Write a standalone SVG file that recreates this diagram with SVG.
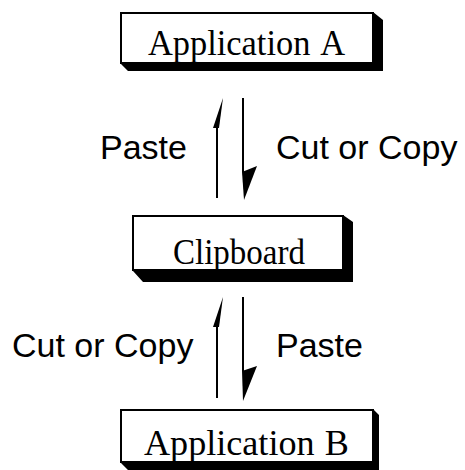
<svg xmlns="http://www.w3.org/2000/svg" width="465" height="470" viewBox="0 0 465 470">
  <style>
    .box { fill: #ffffff; stroke: #000000; stroke-width: 2; }
    .shadow { fill: #000000; stroke: none; }
    .title { font-family: "Liberation Serif", "Times New Roman", serif; font-size: 35px; fill: #000000; }
    .label { font-family: "Liberation Sans", Arial, sans-serif; font-size: 34px; fill: #000000; }
    .shaft { stroke: #000000; stroke-width: 2; fill: none; }
    .head { fill: #000000; stroke: none; }
  </style>
  <rect width="465" height="470" fill="#ffffff"/>

  <g id="application-a">
    <polygon class="shadow" points="373,12 383,20 383,71 128,71 121,64 373,64"/>
    <rect class="box" x="121" y="13" width="252" height="50"/>
    <text class="title" x="148" y="55" textLength="197" lengthAdjust="spacingAndGlyphs">Application<tspan dx="10">A</tspan></text>
  </g>

  <g id="clipboard">
    <polygon class="shadow" points="343,215 353,222 353,282 143,282 133,271 343,271"/>
    <rect class="box" x="133" y="216" width="210" height="54"/>
    <text class="title" x="173" y="264" textLength="132" lengthAdjust="spacingAndGlyphs">Clipboard</text>
  </g>

  <g id="application-b">
    <polygon class="shadow" points="373,409 379,415 379,470 128,470 121,463 373,463"/>
    <rect class="box" x="121" y="410" width="252" height="52"/>
    <text class="title" x="144" y="455" textLength="205" lengthAdjust="spacingAndGlyphs">Application<tspan dx="10">B</tspan></text>
  </g>

  <g id="labels">
    <text class="label" x="100" y="159">Paste</text>
    <text class="label" x="276" y="159">Cut or Copy</text>
    <text class="label" x="12" y="357">Cut or Copy</text>
    <text class="label" x="276" y="357">Paste</text>
  </g>

  <g id="connectors">
    <!-- Application A <-> Clipboard -->
    <line class="shaft" x1="217" y1="198" x2="217" y2="126"/>
    <polygon class="head" points="223,98 213,128 219,128"/>
    <line class="shaft" x1="243" y1="98" x2="243" y2="172"/>
    <polygon class="head" points="242,172 257,166 244,200"/>

    <!-- Clipboard <-> Application B -->
    <line class="shaft" x1="217" y1="398" x2="217" y2="325"/>
    <polygon class="head" points="223,297 213,327 219,327"/>
    <line class="shaft" x1="243" y1="297" x2="243" y2="371"/>
    <polygon class="head" points="242,371 257,366 243,401"/>
  </g>
</svg>
